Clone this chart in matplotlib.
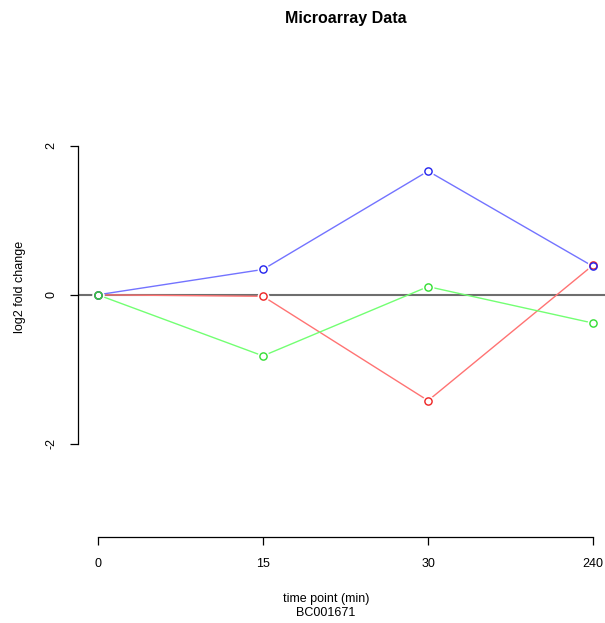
import matplotlib
matplotlib.use("Agg")
import matplotlib.pyplot as plt

# time points (evenly spaced categories) and log2 fold changes per probe
time_labels = ["0", "15", "30", "240"]
blue_vals = [0.0, 0.34, 1.66, 0.38]
red_vals = [0.0, -0.02, -1.42, 0.40]
green_vals = [0.0, -0.82, 0.11, -0.38]

y_ticks = [-2, 0, 2]

plt.rcParams["font.family"] = ["Liberation Sans", "DejaVu Sans"]

W, H = 605, 623
fig = plt.figure(figsize=(W / 100, H / 100), dpi=100)
ax = fig.add_axes([78 / W, 86 / H, 535 / W, 468 / H])

x = list(range(len(time_labels)))

# zero reference line
ax.axhline(0, color="#6e6e6e", lw=1.5, zorder=1)

series = [
    (red_vals, "#ff7373", "#ee2222"),
    (blue_vals, "#7373ff", "#2222ee"),
    (green_vals, "#73ff73", "#33dd33"),
]
for vals, line_col, pt_col in series:
    ax.plot(x, vals, color=line_col, lw=1.0, zorder=2)
for vals, line_col, pt_col in series:
    # white halo leaves a small gap between line and point
    ax.plot(x, vals, ls="none", marker="o", ms=8.5, mfc="white",
            mec="none", zorder=3)
for vals, line_col, pt_col in series:
    ax.plot(x, vals, ls="none", marker="o", ms=5.2, mfc="none",
            mec=pt_col, mew=1.0, zorder=4)

ax.set_xlim(-0.12, 3.12)
ax.set_ylim(-3.25, 3.03)

ax.set_xticks(x)
ax.set_xticklabels(time_labels)
ax.set_yticks(y_ticks)
ax.set_yticklabels([str(v) for v in y_ticks], rotation=90, va="center")

for side in ["top", "right"]:
    ax.spines[side].set_visible(False)
ax.spines["left"].set_bounds(-2, 2)
ax.spines["bottom"].set_bounds(0, 3)
for side in ["left", "bottom"]:
    ax.spines[side].set_linewidth(0.9)

ax.tick_params(axis="both", direction="out", length=5.8, width=0.9,
               labelsize=9, colors="black")
ax.tick_params(axis="x", pad=9)
ax.tick_params(axis="y", pad=9)

fig.text(346 / W, 1 - 18 / H, "Microarray Data", ha="center", va="center",
         fontsize=11.5, fontweight="bold")
fig.text(20 / W, 1 - 287 / H, "log2 fold change", ha="center", va="center",
         rotation=90, fontsize=9)
fig.text(326 / W, 1 - 606 / H, "time point (min)\nBC001671", ha="center",
         va="center", fontsize=9, linespacing=1.3)

fig.savefig("out.png", dpi=100)
